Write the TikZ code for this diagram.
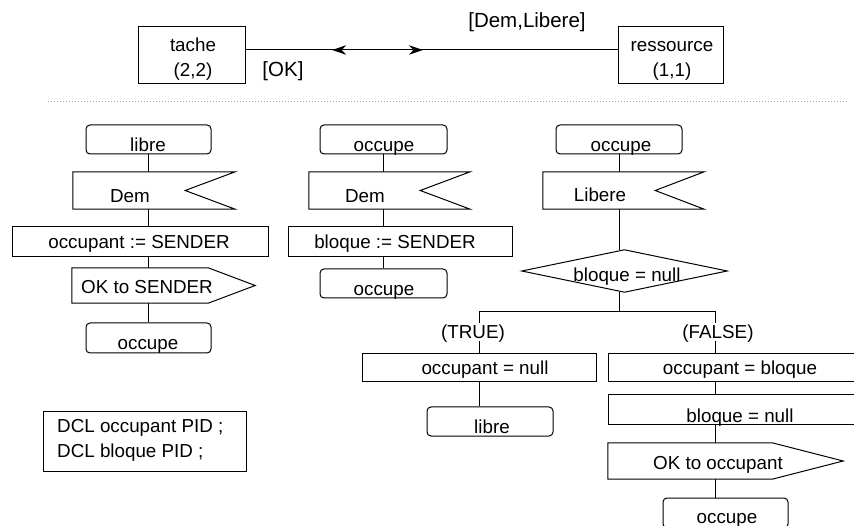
\documentclass[tikz,border=0pt]{standalone}
\usepackage{fontspec}
\setmainfont{Liberation Sans}
\usetikzlibrary{arrows.meta,decorations.markings}
\tikzset{mytip/.tip={Stealth[length=14pt, width=9.5pt, inset=4.5pt]}}
\begin{document}
\begin{tikzpicture}[x=1pt,y=-1pt,
  every node/.style={font=\fontsize{18.8}{25}\selectfont, inner sep=0pt, text height=13.5pt, text depth=0pt},
  ln/.style={line width=1pt, draw=black},
  frame/.style={rectangle, draw=none, inner sep=0pt},
  boxd/.style={rectangle, draw=black, line width=1pt, inner sep=0pt},
  statebox/.style={rectangle, draw=black, line width=1pt, rounded corners=4pt, inner sep=0pt},
  brlabel/.style={fill=white, inner sep=2pt},
  siglabel/.style={font=\fontsize{20.5}{25}\selectfont, text height=14.7pt},
]
\useasboundingbox (0,0) rectangle (854,526);

% ---------- top part ----------
\node[boxd, minimum width=107pt, minimum height=57pt] (ta) at (191.5,55.5) {};
\node (tat1) at (193,45) {tache};
\node (tat2) at (193,70) {(2,2)};
\node[boxd, minimum width=105pt, minimum height=57pt] (re) at (670.5,55.5) {};
\node (ret1) at (672,45) {ressource};
\node (ret2) at (672,70) {(1,1)};
\draw[ln, postaction={decorate}, decoration={markings,
   mark=at position 0.233 with {\arrowreversed{mytip}},
   mark=at position 0.477 with {\arrow{mytip}}}]
   ([yshift=5.5pt]ta.east) -- ([yshift=5.5pt]re.west);
\node[siglabel] (sig1) at (527,20) {[Dem,Libere]};
\node[siglabel] (sig2) at (283,69) {[OK]};

\coordinate (dl) at (48,101.5);
\coordinate (dr) at (849,101.5);
\draw[gray!70, line width=1pt, dash pattern=on 1pt off 2pt] (dl) -- (dr);

% ---------- left column ----------
\node[statebox, minimum width=125pt, minimum height=29pt] (L1) at (148.5,139.5) {};
\node (L1t) at (148,145) {libre};
\node[frame, minimum width=162pt, minimum height=37pt] (L2) at (154,190.5) {};
\draw[ln] (L2.north west) -- (L2.north east) -- ([xshift=-50pt]L2.east) -- (L2.south east) -- (L2.south west) -- cycle;
\node (L2t) at (130,196) {Dem};
\node[boxd, minimum width=256pt, minimum height=30pt] (L3) at (140,242) {};
\node (L3t) at (139,242) {occupant := SENDER};
\node[frame, minimum width=183pt, minimum height=35pt] (L4) at (163.5,285.5) {};
\draw[ln] (L4.north west) -- ([xshift=-47pt]L4.north east) -- (L4.east) -- ([xshift=-47pt]L4.south east) -- (L4.south west) -- cycle;
\node (L4t) at (147,287) {OK to SENDER};
\node[statebox, minimum width=125pt, minimum height=30pt] (L5) at (148.5,338) {};
\node (L5t) at (148,343) {occupe};

\draw[ln] (L1.south) -- (L1.south |- L2.north);
\draw[ln] (L1.south |- L2.south) -- (L1.south |- L3.north);
\draw[ln] (L1.south |- L3.south) -- (L1.south |- L4.north);
\draw[ln] (L1.south |- L4.south) -- (L5.north);

% ---------- middle column ----------
\node[statebox, minimum width=127pt, minimum height=29pt] (M1) at (383.5,139.5) {};
\node (M1t) at (384,145) {occupe};
\node[frame, minimum width=161pt, minimum height=37pt] (M2) at (389.5,190.5) {};
\draw[ln] (M2.north west) -- (M2.north east) -- ([xshift=-50pt]M2.east) -- (M2.south east) -- (M2.south west) -- cycle;
\node (M2t) at (365,196) {Dem};
\node[boxd, minimum width=224pt, minimum height=30pt] (M3) at (400,242) {};
\node (M3t) at (395,242) {bloque := SENDER};
\node[statebox, minimum width=127pt, minimum height=29pt] (M4) at (383.5,283.5) {};
\node (M4t) at (384,289) {occupe};

\draw[ln] (M1.south) -- (M1.south |- M2.north);
\draw[ln] (M1.south |- M2.south) -- (M1.south |- M3.north);
\draw[ln] (M1.south |- M3.south) -- (M4.north);

% ---------- right column ----------
\node[statebox, minimum width=126pt, minimum height=29pt] (R1) at (619,139.5) {};
\node (R1t) at (621,145) {occupe};
\node[frame, minimum width=161pt, minimum height=37pt] (R2) at (623.5,190.5) {};
\draw[ln] (R2.north west) -- (R2.north east) -- ([xshift=-49pt]R2.east) -- (R2.south east) -- (R2.south west) -- cycle;
\node (R2t) at (600,195) {Libere};
\node[frame, minimum width=205pt, minimum height=42pt] (Di) at (624.5,271) {};
\draw[ln] (Di.west) -- (Di.north) -- (Di.east) -- (Di.south) -- cycle;
\node (Dit) at (627,275) {bloque = null};

\draw[ln] (R1.south) -- (R1.south |- R2.north);
\draw[ln] (R1.south |- R2.south) -- (R1.south |- Di.north);

% branches
\coordinate (bj) at (619,311.5);
\coordinate (fx) at (715,311.5);
\node[boxd, minimum width=234pt, minimum height=28pt] (T1) at (479,368) {};
\node (T1t) at (485,368) {occupant = null};
\node[statebox, minimum width=126pt, minimum height=29pt] (T2) at (490,421.5) {};
\node (T2t) at (492,427) {libre};

\node[boxd, minimum width=250pt, minimum height=28pt] (F1) at (733,368) {};
\node (F1t) at (740,368) {occupant = bloque};
\node[boxd, minimum width=250pt, minimum height=29pt] (F2) at (733,409.5) {};
\node (F2t) at (740,416) {bloque = null};
\node[frame, minimum width=235pt, minimum height=36pt] (F3) at (725.5,461) {};
\draw[ln] (F3.north west) -- ([xshift=-71pt]F3.north east) -- (F3.east) -- ([xshift=-71pt]F3.south east) -- (F3.south west) -- cycle;
\node (F3t) at (718,463) {OK to occupant};
\node[statebox, minimum width=125pt, minimum height=30pt] (F4) at (725.5,513) {};
\node (F4t) at (727,517) {occupe};

\draw[ln] (bj |- Di.south) -- (bj);
\draw[ln] (T1.north |- bj) -- (fx);
\draw[ln] (T1.north |- bj) -- (T1.north);
\draw[ln] (fx) -- (fx |- F1.north);
\node[brlabel] (tl) at (473,332) {(TRUE)};
\node[brlabel] (fl) at (718,332) {(FALSE)};
\draw[ln] (T1.south) -- (T1.south |- T2.north);
\draw[ln] (fx |- F1.south) -- (fx |- F2.north);
\draw[ln] (fx |- F2.south) -- (fx |- F3.north);
\draw[ln] (fx |- F3.south) -- (fx |- F4.north);

% ---------- declarations ----------
\node[boxd, minimum width=203pt, minimum height=60pt] (dcl) at (144.5,441) {};
\node[align=left, anchor=west, text height=, text depth=] (dclt) at (57,440) {DCL occupant PID ;\\DCL bloque PID ;};
\end{tikzpicture}
\end{document}
